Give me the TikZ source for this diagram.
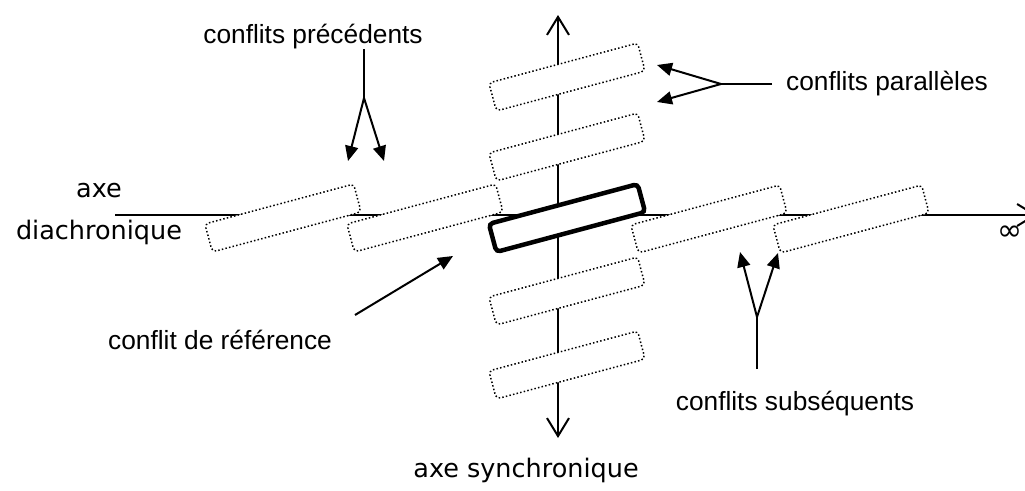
\documentclass[tikz,border=0pt]{standalone}
\usepackage{fontspec}
\setmainfont{Liberation Sans}
\newfontfamily\comicfont{DejaVu Sans}
\usetikzlibrary{arrows.meta}
\tikzset{
  conf/.style={draw, line width=1.5pt, dash pattern=on 1.5pt off 2.2pt, fill=white, rounded corners=4pt,
    minimum width=154pt, minimum height=29pt, inner sep=0pt, rotate=15},
  refconf/.style={conf, solid, line width=4.5pt},
  axis/.style={line width=2pt, {Straight Barb[length=18pt,width=22pt,line width=2pt]}-{Straight Barb[length=18pt,width=22pt,line width=2pt]}},
  haxis/.style={line width=2pt, -{Straight Barb[length=18pt,width=22pt,line width=2pt]}},
  lbl/.style={font=\fontsize{26.3}{30}\selectfont, inner sep=0pt},
  clbl/.style={font=\comicfont\fontsize{25.5}{42}\selectfont, inner sep=0pt, align=center},
  ptr/.style={line width=2pt, -{Triangle[length=15pt,width=13pt]}},
  stem/.style={line width=2pt}
}
\begin{document}
\begin{tikzpicture}[x=1pt,y=-1pt]
\useasboundingbox (0,0) rectangle (1025,490);
\clip (0,0) rectangle (1025,490);
% axes
\coordinate (hstart) at (115,215);
\coordinate (hend) at (1037,215);
\coordinate (vtop) at (558,15);
\coordinate (vbot) at (558,438);
\draw[haxis] (hstart) -- (hend);
\draw[axis] (vbot) -- (vtop);
% conflicts
\node[conf] (h1) at (283,218) {};
\node[conf] (h2) at (425,218) {};
\node[conf] (h4) at (709,219) {};
\node[conf] (h5) at (851,219) {};
\node[conf] (v1) at (567,77) {};
\node[conf] (v2) at (567,147) {};
\node[conf] (v4) at (567,291) {};
\node[conf] (v5) at (567,365) {};
\node[refconf] (ref) at (567,218) {};
% axis labels
\node[clbl] (diach) at (99,214) {axe\\diachronique};
\node[clbl] (synch) at (526,470) {axe synchronique};
\node[font=\comicfont\fontsize{30}{30}\selectfont, inner sep=0pt] (inf) at (1010,233) {∞};
% précédents
\node[lbl] (prec) at (313,37) {conflits précédents};
\coordinate (precA) at (364,49);
\coordinate (precJ) at (364,98);
\coordinate (precL) at (348,161);
\coordinate (precR) at (384,161);
\draw[stem] (precA) -- (precJ);
\draw[ptr] (precJ) -- (precL);
\draw[ptr] (precJ) -- (precR);
% parallèles
\node[lbl] (para) at (887,84) {conflits parallèles};
\coordinate (paraA) at (772,84);
\coordinate (paraJ) at (721,84);
\coordinate (paraU) at (657,65);
\coordinate (paraD) at (657,102);
\draw[stem] (paraA) -- (paraJ);
\draw[ptr] (paraJ) -- (paraU);
\draw[ptr] (paraJ) -- (paraD);
% référence
\node[lbl] (refl) at (220,340) {conflit de référence};
\coordinate (refA) at (355,315);
\coordinate (refT) at (453,256);
\draw[ptr] (refA) -- (refT);
% subséquents
\node[lbl] (subs) at (795,404) {conflits subséquents};
\coordinate (subA) at (757,369);
\coordinate (subJ) at (757,317);
\coordinate (subL) at (740,252);
\coordinate (subR) at (778,253);
\draw[stem] (subA) -- (subJ);
\draw[ptr] (subJ) -- (subL);
\draw[ptr] (subJ) -- (subR);
\end{tikzpicture}
\end{document}
